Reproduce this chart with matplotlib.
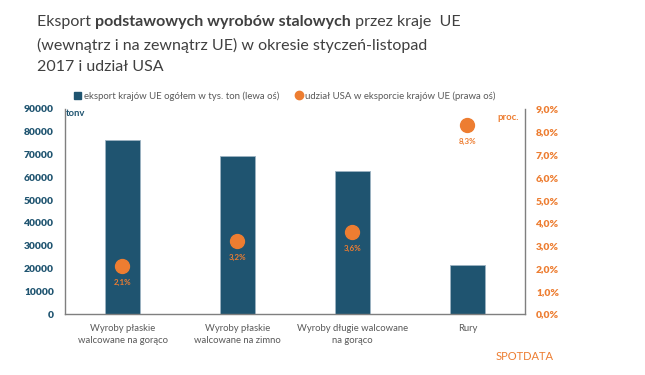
import matplotlib
matplotlib.use("Agg")
import matplotlib.pyplot as plt
from matplotlib.lines import Line2D
from matplotlib.patches import Patch

plt.rcParams['font.family'] = ['Lato', 'DejaVu Sans']

# data
categories = ["Wyroby płaskie\nwalcowane na gorąco",
              "Wyroby płaskie\nwalcowane na zimno",
              "Wyroby długie walcowane\nna gorąco",
              "Rury"]
export_tys_ton = [76500, 69500, 63000, 21500]
usa_share = [2.1, 3.2, 3.6, 8.3]
left_ticks = [0, 10000, 20000, 30000, 40000, 50000, 60000, 70000, 80000, 90000]
right_ticks = [0, 1, 2, 3, 4, 5, 6, 7, 8, 9]

bar_col = '#1F5470'
orange = '#ED7D31'
grey_txt = '#595959'
spine_col = '#7F7F7F'

W, H = 645, 375
fig = plt.figure(figsize=(W / 100, H / 100), dpi=100)

def fx(px):
    return px / W

def fy(py):
    return 1 - py / H

ax = fig.add_axes([fx(65), fy(314), fx(525) - fx(65), fy(109) - fy(314)])
x = range(len(categories))
ax.bar(x, export_tys_ton, width=0.31, color=bar_col, edgecolor='#9DB3C2', linewidth=0.6)
ax.set_xlim(-0.5, 3.5)
ax.set_ylim(0, 90000)
ax.set_yticks(left_ticks)
ax.set_yticklabels([str(v) for v in left_ticks], color=bar_col, fontweight='heavy', fontsize=7.4)
ax.set_xticks(list(x))
ax.set_xticklabels(categories, color=grey_txt, fontsize=6.8, linespacing=1.5)
ax.tick_params(axis='both', length=0)
ax.tick_params(axis='y', pad=8)
ax.tick_params(axis='x', pad=7)
for s in ['left', 'bottom', 'right']:
    ax.spines[s].set_color(spine_col)
    ax.spines[s].set_linewidth(1.0)
ax.spines['top'].set_visible(False)

ax2 = ax.twinx()
ax2.set_ylim(0, 9)
ax2.plot(list(x), usa_share, 'o', color=orange, markersize=10, zorder=5)
ax2.set_yticks(right_ticks)
ax2.set_yticklabels([f"{v},0%" for v in right_ticks], color=orange, fontweight='heavy', fontsize=7.4)
ax2.tick_params(axis='y', length=0, pad=8)
for s in ['top', 'left', 'bottom', 'right']:
    ax2.spines[s].set_visible(False)
for xi, v in zip(x, usa_share):
    ax2.annotate(f"{v:.1f}%".replace('.', ','), (xi, v), xytext=(0, -12),
                 textcoords='offset points', ha='center', va='center',
                 color=orange, fontsize=5.8, fontweight='bold')

# axis unit labels
fig.text(fx(66), fy(113), "tonv", color=bar_col, fontsize=6.8, fontweight='bold', va='center')
fig.text(fx(519), fy(118), "proc.", color=orange, fontsize=6.8, fontweight='bold', va='center', ha='right')

# legend
handles = [Patch(color=bar_col), Line2D([], [], marker='o', ls='', color=orange, markersize=6)]
labels = ["eksport krajów UE ogółem w tys. ton (lewa oś)",
          "udział USA w eksporcie krajów UE (prawa oś)"]
fig.legend(handles, labels, loc='center left', bbox_to_anchor=(fx(65), fy(96)), ncol=2,
           frameon=False, fontsize=6.9, labelcolor=grey_txt, handlelength=0.8,
           handleheight=0.8, handletextpad=0.3, columnspacing=1.6)

# title with a bold fragment
fig.canvas.draw()
renderer = fig.canvas.get_renderer()
title_col = '#404040'
tsize = 11.5
xpos = fx(37)
for part, wt in [("Eksport ", 'normal'), ("podstawowych wyrobów stalowych", 'bold'),
                 (" przez kraje  UE", 'normal')]:
    t = fig.text(xpos, fy(22), part, fontsize=tsize, fontweight=wt, color=title_col, va='center')
    bb = t.get_window_extent(renderer=renderer)
    xpos += bb.width / W
fig.text(fx(37), fy(45), "(wewnątrz i na zewnątrz UE) w okresie styczeń-listopad",
         fontsize=tsize, color=title_col, va='center')
fig.text(fx(37), fy(67), "2017 i udział USA", fontsize=tsize, color=title_col, va='center')

# logo text
fig.text(fx(525), fy(357), "SPOTDATA", color=orange, fontsize=8, va='center', ha='center')

fig.savefig("out.png", dpi=100)
